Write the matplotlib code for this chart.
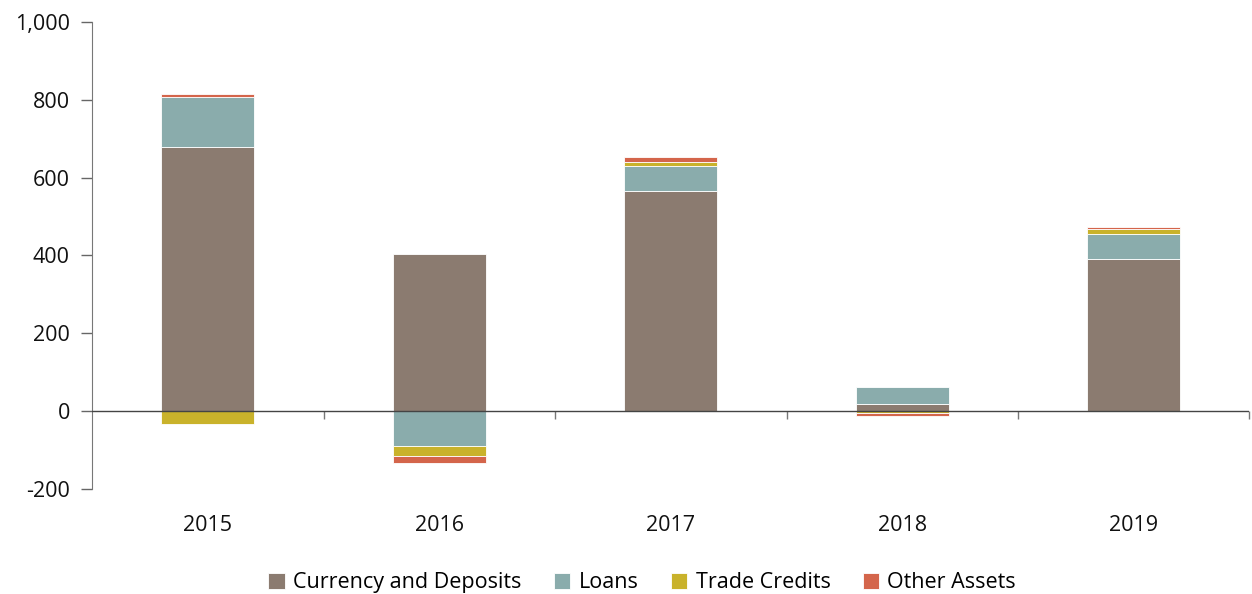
import numpy as np
import matplotlib.pyplot as plt

plt.rcParams['font.family'] = ['Open Sans', 'DejaVu Sans']

# Data
years = ['2015', '2016', '2017', '2018', '2019']
currency = [678, 404, 566, 18, 392]
loans = [128, -90, 65, 45, 62]
trade = [-33, -25, 8, -5, 15]
other = [9, -19, 15, -8, 3]

series = [('Currency and Deposits', currency, '#8B7B70'),
          ('Loans', loans, '#8AACAC'),
          ('Trade Credits', trade, '#C9B22B'),
          ('Other Assets', other, '#D4654B')]

fig, ax = plt.subplots(figsize=(12.52, 5.94), dpi=100)
fig.subplots_adjust(left=0.0735, right=0.998, top=0.963, bottom=0.177)

x = np.arange(len(years))
pos_base = np.zeros(len(years))
neg_base = np.zeros(len(years))
for name, vals, color in series:
    vals = np.array(vals, dtype=float)
    bottom = np.where(vals >= 0, pos_base, neg_base)
    ax.bar(x, vals, width=0.4, bottom=bottom, color=color, label=name,
           edgecolor='white', linewidth=0.6)
    pos_base += np.where(vals >= 0, vals, 0)
    neg_base += np.where(vals < 0, vals, 0)

ax.set_xlim(-0.5, len(years) - 0.5)
ax.set_ylim(-200, 1000)
ax.set_yticks(range(-200, 1001, 200))
ax.set_yticklabels([f'{v:,}' for v in range(-200, 1001, 200)])
ax.set_xticks(x)
ax.set_xticklabels(years)
ax.tick_params(axis='x', length=0, pad=19, labelsize=15.5, colors='#111111')
ax.tick_params(axis='y', length=8, width=1, direction='out', pad=8,
               labelsize=15.5, colors='#666666', labelcolor='#111111')

for side in ['top', 'right', 'bottom']:
    ax.spines[side].set_visible(False)
ax.spines['left'].set_color('#777777')

# zero line with category separator ticks
ax.axhline(0, color='#444444', linewidth=1, zorder=3)
ax.vlines(np.arange(len(years)) + 0.5, -20, 0, color='#777777', linewidth=1, clip_on=False)

ax.legend(loc='center', bbox_to_anchor=(0.513, 0.019), bbox_transform=fig.transFigure,
          ncol=4, frameon=False, fontsize=15.5, handlelength=0.75, handleheight=0.75,
          handletextpad=0.4, columnspacing=1.5, borderpad=0)

plt.savefig('out.png', dpi=100)
